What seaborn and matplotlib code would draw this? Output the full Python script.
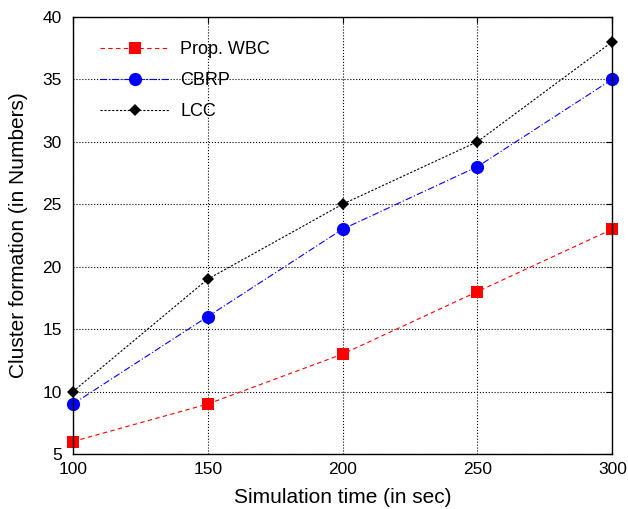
import pandas as pd
import matplotlib.pyplot as plt
import seaborn as sns

sim_time = [100, 150, 200, 250, 300]
prop_wbc = [6, 9, 13, 18, 23]
cbrp = [9, 16, 23, 28, 35]
lcc = [10, 19, 25, 30, 38]

df = pd.DataFrame({
    'time': sim_time * 3,
    'value': prop_wbc + cbrp + lcc,
    'method': ['Prop. WBC'] * 5 + ['CBRP'] * 5 + ['LCC'] * 5,
})

sns.set_style('white', {'text.color': 'black', 'axes.labelcolor': 'black',
                        'xtick.color': 'black', 'ytick.color': 'black'})
plt.rcParams['font.family'] = ['Liberation Sans', 'DejaVu Sans']

fig = plt.figure(figsize=(6.28, 5.09), dpi=100)
ax = fig.add_axes([0.116, 0.108, 0.859, 0.859])

palette = {'Prop. WBC': '#ff0000', 'CBRP': '#0000ff', 'LCC': '#000000'}
markers = {'Prop. WBC': 's', 'CBRP': 'o', 'LCC': 'D'}
dashes = {'Prop. WBC': (4, 3), 'CBRP': (6, 2, 1, 2), 'LCC': (2, 1.5)}

sns.lineplot(data=df, x='time', y='value', hue='method', style='method',
             palette=palette, markers=markers, dashes=dashes, ax=ax,
             linewidth=0.8, markeredgewidth=0, clip_on=False)

for line in ax.lines:
    if line.get_marker() == 'D':
        line.set_markersize(6.5)
    elif line.get_marker() == 'o':
        line.set_markersize(9.5)
    else:
        line.set_markersize(8.5)

ax.set_xlim(100, 300)
ax.set_ylim(5, 40)
ax.set_xticks(sim_time)
ax.set_yticks(range(5, 41, 5))
ax.grid(True, color='black', linestyle=':', linewidth=0.8)
for s in ax.spines.values():
    s.set_color('black')
    s.set_linewidth(1.0)
ax.tick_params(labelsize=12.5, direction='in', length=4, colors='black',
               labelcolor='black', top=True, right=True)
ax.tick_params(axis='x', pad=6)
ax.tick_params(axis='y', pad=8)
ax.set_xlabel('Simulation time (in sec)', fontsize=15, labelpad=8,
              color='black')
ax.set_ylabel('Cluster formation (in Numbers)', fontsize=15, labelpad=10,
              color='black')

leg = ax.legend(loc='upper left', bbox_to_anchor=(0.05, 0.945), frameon=False,
                fontsize=13, handlelength=3.9, handletextpad=0.55,
                labelspacing=0.78, borderpad=0, borderaxespad=0)
for h in leg.legend_handles:
    h.set_linewidth(0.8)
for t in leg.get_texts():
    t.set_color('black')

fig.savefig('out.png', dpi=100)
